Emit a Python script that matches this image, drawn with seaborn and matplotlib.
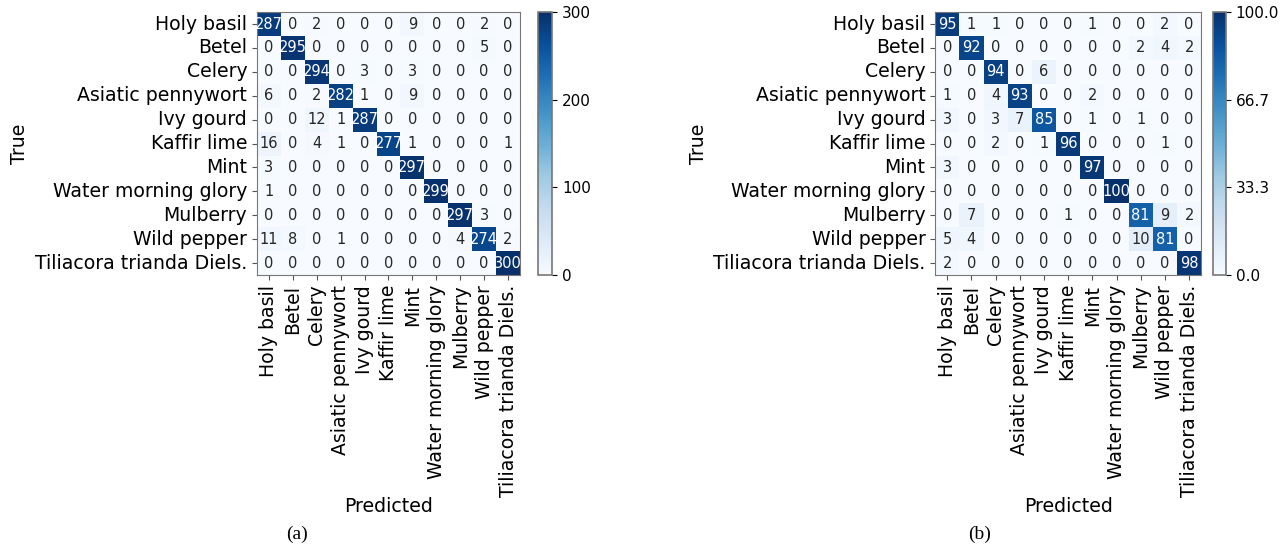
import numpy as np
import pandas as pd
import matplotlib.pyplot as plt
import seaborn as sns

classes = ['Holy basil', 'Betel', 'Celery', 'Asiatic pennywort', 'Ivy gourd',
           'Kaffir lime', 'Mint', 'Water morning glory', 'Mulberry',
           'Wild pepper', 'Tiliacora trianda Diels.']

# counts (a)
cm_counts = [
    [287, 0, 2, 0, 0, 0, 9, 0, 0, 2, 0],
    [0, 295, 0, 0, 0, 0, 0, 0, 0, 5, 0],
    [0, 0, 294, 0, 3, 0, 3, 0, 0, 0, 0],
    [6, 0, 2, 282, 1, 0, 9, 0, 0, 0, 0],
    [0, 0, 12, 1, 287, 0, 0, 0, 0, 0, 0],
    [16, 0, 4, 1, 0, 277, 1, 0, 0, 0, 1],
    [3, 0, 0, 0, 0, 0, 297, 0, 0, 0, 0],
    [1, 0, 0, 0, 0, 0, 0, 299, 0, 0, 0],
    [0, 0, 0, 0, 0, 0, 0, 0, 297, 3, 0],
    [11, 8, 0, 1, 0, 0, 0, 0, 4, 274, 2],
    [0, 0, 0, 0, 0, 0, 0, 0, 0, 0, 300],
]

# percentages (b)
cm_pct = [
    [95, 1, 1, 0, 0, 0, 1, 0, 0, 2, 0],
    [0, 92, 0, 0, 0, 0, 0, 0, 2, 4, 2],
    [0, 0, 94, 0, 6, 0, 0, 0, 0, 0, 0],
    [1, 0, 4, 93, 0, 0, 2, 0, 0, 0, 0],
    [3, 0, 3, 7, 85, 0, 1, 0, 1, 0, 0],
    [0, 0, 2, 0, 1, 96, 0, 0, 0, 1, 0],
    [3, 0, 0, 0, 0, 0, 97, 0, 0, 0, 0],
    [0, 0, 0, 0, 0, 0, 0, 100, 0, 0, 0],
    [0, 7, 0, 0, 0, 1, 0, 0, 81, 9, 2],
    [5, 4, 0, 0, 0, 0, 0, 0, 10, 81, 0],
    [2, 0, 0, 0, 0, 0, 0, 0, 0, 0, 98],
]

fig = plt.figure(figsize=(12.81, 5.49), dpi=100)


def draw_cm(data, ax, cax, vmax, cticks, cfmt):
    df = pd.DataFrame(data, index=classes, columns=classes)
    sns.heatmap(df, ax=ax, cbar_ax=cax, cmap='Blues', vmin=0, vmax=vmax,
                annot=True, fmt='d', annot_kws={'size': 10.5},
                square=False, cbar_kws={'ticks': cticks})
    ax.set_xticklabels(classes, rotation=90, fontsize=13.6)
    ax.set_yticklabels(classes, rotation=0, fontsize=13.6)
    ax.set_xlabel('Predicted', fontsize=13.6, labelpad=0)
    ax.set_ylabel('True', fontsize=13.6)
    ax.tick_params(color='#555555')
    for s in ax.spines.values():
        s.set_visible(True)
        s.set_color('#777777')
    cbar = ax.collections[0].colorbar
    cbar.set_ticklabels([cfmt.format(t) for t in cticks], fontsize=11)
    cbar.outline.set_linewidth(1.2)
    cbar.outline.set_edgecolor('#777777')


ax1 = fig.add_axes([0.2006, 0.499, 0.2053, 0.479])
cax1 = fig.add_axes([0.420, 0.499, 0.011, 0.479])
draw_cm(cm_counts, ax1, cax1, 300, [0, 100, 200, 300], '{:.0f}')

ax2 = fig.add_axes([0.730, 0.499, 0.2077, 0.479])
cax2 = fig.add_axes([0.947, 0.499, 0.010, 0.479])
draw_cm(cm_pct, ax2, cax2, 100, [0, 100 / 3, 200 / 3, 100], '{:.1f}')

fig.text(0.232, 0.027, '(a)', ha='center', va='center', fontsize=14,
         family='Liberation Serif')
fig.text(0.765, 0.027, '(b)', ha='center', va='center', fontsize=14,
         family='Liberation Serif')

fig.savefig('out.png', dpi=100)
